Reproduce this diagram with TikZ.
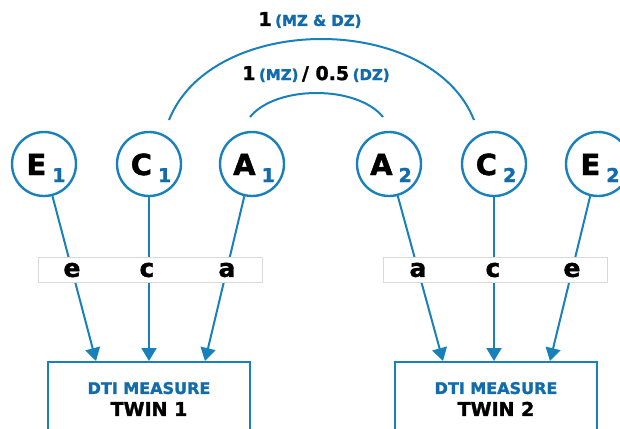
\documentclass[tikz,border=0pt]{standalone}
\usepackage{fontspec}
\setmainfont{DejaVu Sans}[BoldFeatures={FakeBold=1.6}]
\usetikzlibrary{positioning}
\usetikzlibrary{arrows.meta}
\definecolor{twinblue}{RGB}{24,128,186}
\definecolor{textblue}{RGB}{18,108,172}
\newcommand{\lat}[2]{\hspace{4pt}\rule{0pt}{29pt}{\fontsize{29}{29}\selectfont #1}\hspace{6pt}\raisebox{-7pt}{\color{textblue}\fontsize{19}{19}\selectfont #2}}

\begin{document}
\begin{tikzpicture}[x=1pt,y=-1pt,
                    every node/.style={font=\bfseries},
                    latent/.style={circle, draw=twinblue, line width=2.4pt, minimum size=64pt, inner sep=0pt},
                    strip/.style={rectangle, draw=gray!30, fill=white, line width=0.8pt, minimum width=224pt, minimum height=25pt},
                    path/.style={inner sep=0pt, font=\bfseries\fontsize{25}{25}\selectfont},
                    measure/.style={rectangle, draw=twinblue, line width=2pt, minimum width=202pt, minimum height=74pt, align=center, font=\bfseries\fontsize{16}{22}\selectfont, inner sep=0pt},
                    link/.style={draw=twinblue, line width=2pt, -{Triangle[width=15pt,length=13pt]}},
                    corr/.style={draw=twinblue, line width=2pt},
                   ]
  \clip (0,0) rectangle (620,428);
  %Nodes
  \node[latent] (E1) at (44,164)  {\lat{E}{1}};
  \node[latent] (C1) at (149,164) {\lat{C}{1}};
  \node[latent] (A1) at (252,164) {\lat{A}{1}};
  \node[latent] (A2) at (389,164) {\lat{A}{2}};
  \node[latent] (C2) at (494,164) {\lat{C}{2}};
  \node[latent] (E2) at (598,164) {\lat{E}{2}};

  \node[measure] (twin1) at (149,399) {\textcolor{textblue}{DTI MEASURE}\\{\fontsize{19}{22}\selectfont TWIN 1}};
  \node[measure] (twin2) at (496,399) {\textcolor{textblue}{DTI MEASURE}\\{\fontsize{19}{22}\selectfont TWIN 2}};

  \coordinate (tipE1) at (96,361);
  \coordinate (tipC1) at (149,361);
  \coordinate (tipA1) at (205,361);
  \coordinate (tipA2) at (443,361);
  \coordinate (tipC2) at (494,361);
  \coordinate (tipE2) at (550,361);

  %Lines
  \draw[link] (E1) -- (tipE1);
  \draw[link] (C1) -- (tipC1);
  \draw[link] (A1) -- (tipA1);
  \draw[link] (A2) -- (tipA2);
  \draw[link] (C2) -- (tipC2);
  \draw[link] (E2) -- (tipE2);

  %Path labels
  \node[strip] (strip1) at (150,270) {};
  \node[strip] (strip2) at (495,270) {};
  \node[path] (e1) at (72,270)  {e};
  \node[path] (c1) at (147,270) {c};
  \node[path] (a1) at (227,270) {a};
  \node[path] (a2) at (418,270) {a};
  \node[path] (c2) at (493,270) {c};
  \node[path] (e2) at (572,270) {e};

  %Correlations
  \coordinate (cstart) at (169,120);
  \coordinate (cend)   at (474,120);
  \coordinate (astart) at (250,117);
  \coordinate (aend)   at (383,117);
  \draw[corr] (cstart) .. controls (212,12) and (431,12) .. (cend);
  \draw[corr] (astart) .. controls (276,85) and (357,85) .. (aend);
  \node (ccorr) at (310,20) {{\fontsize{19}{19}\selectfont 1} {\color{textblue}\fontsize{15}{15}\selectfont (MZ \& DZ)}};
  \node (acorr) at (316,74) {{\fontsize{19}{19}\selectfont 1} {\color{textblue}\fontsize{15}{15}\selectfont (MZ)} {\fontsize{19}{19}\selectfont / 0.5} {\color{textblue}\fontsize{15}{15}\selectfont (DZ)}};
\end{tikzpicture}
\end{document}
